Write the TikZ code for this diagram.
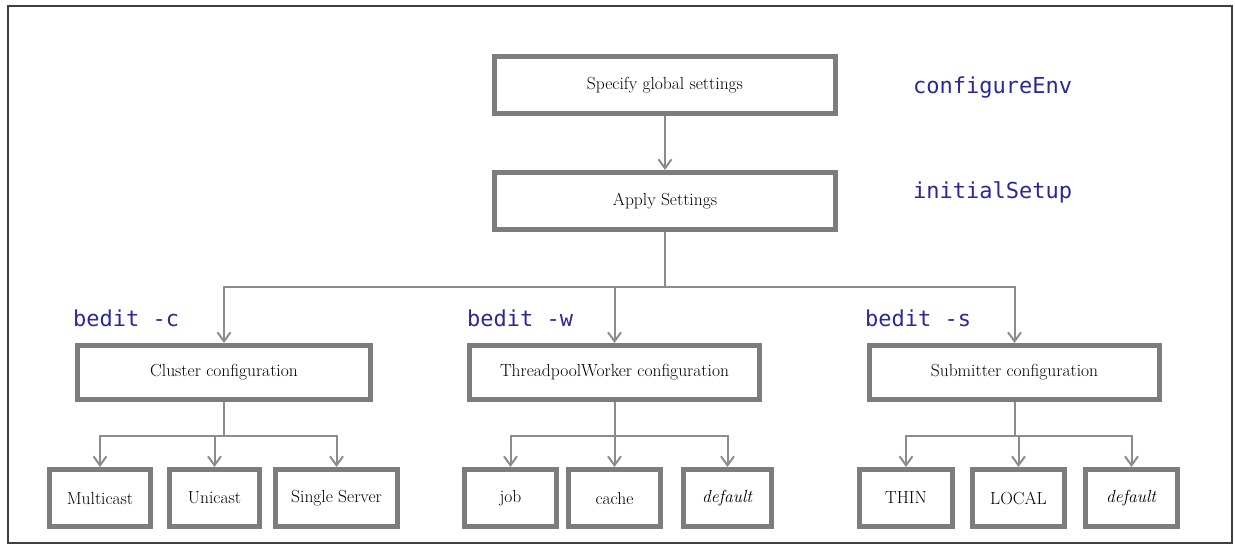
\documentclass[tikz,border=0pt]{standalone}
\usepackage{fontspec}
\setmonofont{DejaVu Sans Mono}
\usepackage{xcolor}
\usetikzlibrary{arrows.meta}
\definecolor{boxgray}{RGB}{125,125,125}
\definecolor{arrgray}{RGB}{140,140,140}
\definecolor{cmdblue}{RGB}{42,40,150}

\begin{document}
\begin{tikzpicture}[x=1pt, y=-1pt, >={Straight Barb[length=9pt,width=13pt,line width=2pt]},
  cfgbox/.style={draw=boxgray, line width=5pt, inner sep=0pt, minimum height=57pt, font=\fontsize{17.5}{20}\selectfont},
  cmdlabel/.style={anchor=west, inner sep=0pt, text=cmdblue, font=\fontsize{22}{24}\selectfont\ttfamily},
  conn/.style={draw=arrgray, line width=2pt}]
\useasboundingbox (0,0) rectangle (1235,546);
\draw[line width=2pt, black!75] (8,6) rectangle (1232,543);
% top chain
\node[cfgbox, minimum width=341pt] (spec) at (665,85) {Specify global settings};
\node[cfgbox, minimum width=341pt] (apply) at (665,201) {Apply Settings};
\node[cmdlabel] (cfgenv) at (913,88) {configureEnv};
\node[cmdlabel] (initset) at (913,192) {initialSetup};
% second level
\node[cfgbox, minimum width=293pt, minimum height=54pt] (cluster) at (224,372.5) {Cluster configuration};
\node[cfgbox, minimum width=290pt, minimum height=54pt] (worker) at (614.5,372.5) {ThreadpoolWorker configuration};
\node[cfgbox, minimum width=290pt, minimum height=54pt] (submit) at (1014.5,372.5) {Submitter configuration};
\node[cmdlabel] (bc) at (73,318) {bedit -c};
\node[cmdlabel] (bw) at (467,318) {bedit -w};
\node[cmdlabel] (bs) at (865,318) {bedit -s};
% leaves
\node[cfgbox, minimum width=101pt] (multicast) at (100,498) {Multicast};
\node[cfgbox, minimum width=90pt] (unicast) at (214.5,498) {Unicast};
\node[cfgbox, minimum width=122pt] (single) at (336.5,498) {Single Server};
\node[cfgbox, minimum width=92pt] (job) at (510.5,498) {job};
\node[cfgbox, minimum width=92pt] (cache) at (614.5,498) {cache};
\node[cfgbox, minimum width=88pt] (wdefault) at (727.5,498) {\textit{default}};
\node[cfgbox, minimum width=93pt] (thin) at (906,498) {THIN};
\node[cfgbox, minimum width=92pt] (local) at (1018.5,498) {LOCAL};
\node[cfgbox, minimum width=92pt] (sdefault) at (1131.5,498) {\textit{default}};
% bus points
\coordinate (bustop) at (665,287);
\coordinate (busc) at (224,436);
\coordinate (busw) at (614.5,436);
\coordinate (buss) at (1014.5,436);
\draw[conn, ->] (spec) -- (apply);
\draw[conn] (apply) -- (bustop);
\draw[conn, ->] (bustop) -| (cluster);
\draw[conn, ->] (bustop) -| (worker);
\draw[conn, ->] (bustop) -| (submit);
\draw[conn] (cluster) -- (busc);
\draw[conn, ->] (busc) -| (multicast);
\draw[conn, ->] (busc) -| (unicast);
\draw[conn, ->] (busc) -| (single);
\draw[conn] (worker) -- (busw);
\draw[conn, ->] (busw) -| (job);
\draw[conn, ->] (busw) -| (cache);
\draw[conn, ->] (busw) -| (wdefault);
\draw[conn] (submit) -- (buss);
\draw[conn, ->] (buss) -| (thin);
\draw[conn, ->] (buss) -| (local);
\draw[conn, ->] (buss) -| (sdefault);
\end{tikzpicture}
\end{document}
